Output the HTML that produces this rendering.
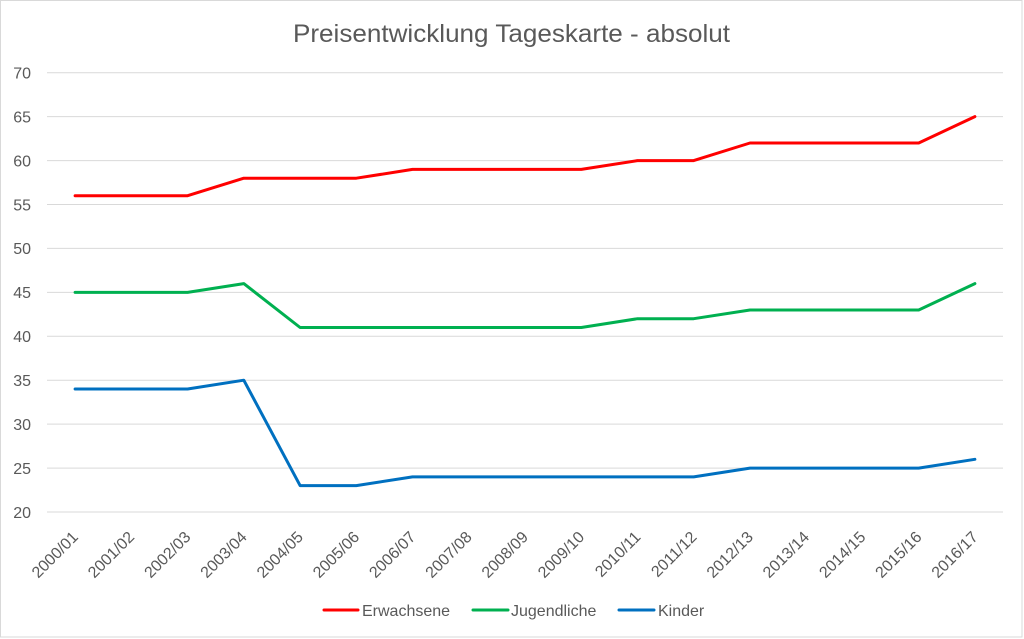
<!DOCTYPE html>
<html><head><meta charset="utf-8"><style>
html,body{margin:0;padding:0;background:#fff;}
svg{display:block;}
text{font-family:"Liberation Sans",sans-serif;fill:#595959;}
</style></head><body>
<svg width="1024" height="639" viewBox="0 0 1024 639" xmlns="http://www.w3.org/2000/svg">
<rect x="0" y="0" width="1024" height="639" fill="#fff"/>
<rect x="0.5" y="0.5" width="1021.5" height="636.5" fill="none" stroke="#d9d9d9" stroke-width="1"/>
<text x="511.5" y="42" font-size="25" text-anchor="middle" textLength="437" lengthAdjust="spacingAndGlyphs">Preisentwicklung Tageskarte - absolut</text>
<g stroke="#d9d9d9" stroke-width="1">
<line x1="47" x2="1003" y1="72.7" y2="72.7"/>
<line x1="47" x2="1003" y1="116.6" y2="116.6"/>
<line x1="47" x2="1003" y1="160.6" y2="160.6"/>
<line x1="47" x2="1003" y1="204.5" y2="204.5"/>
<line x1="47" x2="1003" y1="248.4" y2="248.4"/>
<line x1="47" x2="1003" y1="292.4" y2="292.4"/>
<line x1="47" x2="1003" y1="336.3" y2="336.3"/>
<line x1="47" x2="1003" y1="380.2" y2="380.2"/>
<line x1="47" x2="1003" y1="424.1" y2="424.1"/>
<line x1="47" x2="1003" y1="468.1" y2="468.1"/>
<line x1="47" x2="1003" y1="512" y2="512"/>
</g>
<g font-size="16" text-anchor="end">
<text x="31" y="78.5">70</text>
<text x="31" y="122.4">65</text>
<text x="31" y="166.4">60</text>
<text x="31" y="210.3">55</text>
<text x="31" y="254.2">50</text>
<text x="31" y="298.2">45</text>
<text x="31" y="342.1">40</text>
<text x="31" y="386">35</text>
<text x="31" y="429.9">30</text>
<text x="31" y="473.9">25</text>
<text x="31" y="517.8">20</text>
</g>
<g font-size="16" text-anchor="end">
<text transform="translate(79.1,538) rotate(-45)">2000/01</text>
<text transform="translate(135.3,538) rotate(-45)">2001/02</text>
<text transform="translate(191.6,538) rotate(-45)">2002/03</text>
<text transform="translate(247.8,538) rotate(-45)">2003/04</text>
<text transform="translate(304.1,538) rotate(-45)">2004/05</text>
<text transform="translate(360.3,538) rotate(-45)">2005/06</text>
<text transform="translate(416.5,538) rotate(-45)">2006/07</text>
<text transform="translate(472.8,538) rotate(-45)">2007/08</text>
<text transform="translate(529,538) rotate(-45)">2008/09</text>
<text transform="translate(585.3,538) rotate(-45)">2009/10</text>
<text transform="translate(641.5,538) rotate(-45)">2010/11</text>
<text transform="translate(697.7,538) rotate(-45)">2011/12</text>
<text transform="translate(754,538) rotate(-45)">2012/13</text>
<text transform="translate(810.2,538) rotate(-45)">2013/14</text>
<text transform="translate(866.5,538) rotate(-45)">2014/15</text>
<text transform="translate(922.7,538) rotate(-45)">2015/16</text>
<text transform="translate(978.9,538) rotate(-45)">2016/17</text>
</g>
<g fill="none" stroke-width="3" stroke-linejoin="round" stroke-linecap="round">
<polyline stroke="#FF0000" points="75.1,195.7 131.3,195.7 187.6,195.7 243.8,178.2 300.1,178.2 356.3,178.2 412.5,169.4 468.8,169.4 525,169.4 581.3,169.4 637.5,160.6 693.7,160.6 750,143.0 806.2,143.0 862.5,143.0 918.7,143.0 974.9,116.6"/>
<polyline stroke="#00B050" points="75.1,292.4 131.3,292.4 187.6,292.4 243.8,283.6 300.1,327.5 356.3,327.5 412.5,327.5 468.8,327.5 525,327.5 581.3,327.5 637.5,318.7 693.7,318.7 750,310.0 806.2,310.0 862.5,310.0 918.7,310.0 974.9,283.6"/>
<polyline stroke="#0070C0" points="75.1,389.0 131.3,389.0 187.6,389.0 243.8,380.2 300.1,485.6 356.3,485.6 412.5,476.9 468.8,476.9 525,476.9 581.3,476.9 637.5,476.9 693.7,476.9 750,468.1 806.2,468.1 862.5,468.1 918.7,468.1 974.9,459.3"/>
</g>
<g stroke-width="3" stroke-linecap="round">
<line x1="324" x2="358" y1="610" y2="610" stroke="#FF0000"/>
<line x1="473" x2="508" y1="610" y2="610" stroke="#00B050"/>
<line x1="619" x2="654" y1="610" y2="610" stroke="#0070C0"/>
</g>
<g font-size="16">
<text x="362" y="616">Erwachsene</text>
<text x="511" y="616">Jugendliche</text>
<text x="658" y="616">Kinder</text>
</g>
</svg>
</body></html>
